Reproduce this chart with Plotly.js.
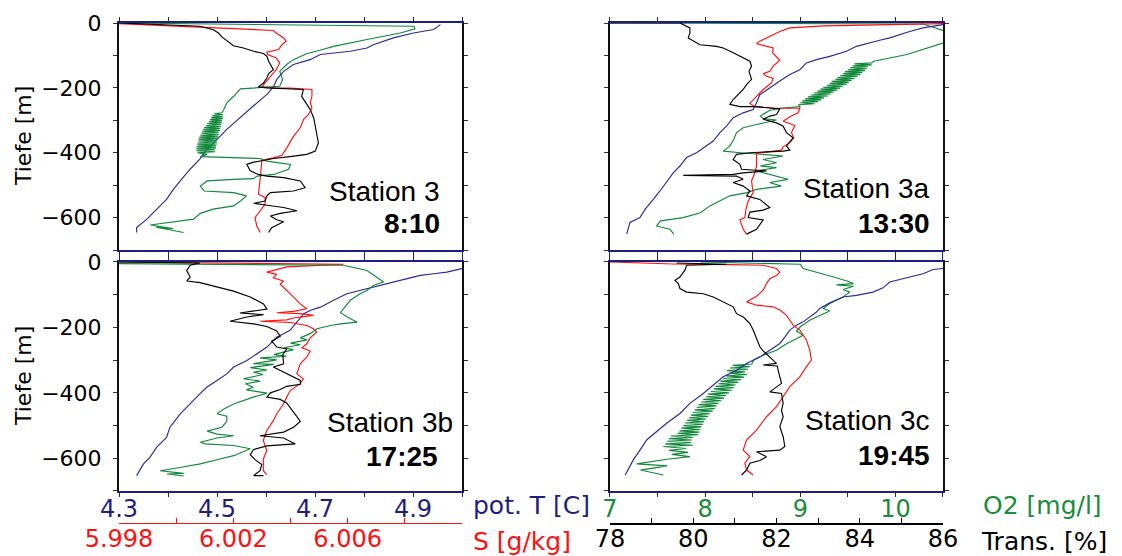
<!DOCTYPE html>
<html>
<head>
<meta charset="utf-8">
<script src="https://cdn.plot.ly/plotly-3.0.1.min.js"></script>
<style>html,body{margin:0;padding:0;background:#fff;}#chart{width:1122px;height:556px;}</style>
</head>
<body>
<div id="chart"></div>
<script>
// ---------------- DATA ----------------
// Station 3 (8:10)
const s3_T   = [4.956,4.942,4.901,4.860,4.819,4.806,4.772,4.711,4.690,4.656,4.636,4.622,4.615,4.602,4.574,4.547,4.520,4.500,4.479,4.465,4.445,4.425,4.411,4.397,4.377,4.357,4.336,4.336];
const s3_Td  = [-5,-20,-31,-46,-67,-77,-87,-97,-113,-128,-149,-174,-197,-220,-256,-292,-328,-359,-390,-420,-451,-487,-513,-544,-574,-605,-631,-646];
const s3_S   = [5.9980,6.0013,6.0027,6.0034,6.0035,6.00376,6.00385,6.0037,6.00358,6.00317,6.0032,6.0035,6.00362,6.0035,6.00335,6.0032,6.0030,6.0035,6.0040,6.00475,6.00475,6.00469,6.00475,6.00463,6.00446,6.00434,6.00411,6.00387,6.0037,6.0034,6.0030,6.00296,6.00291,6.00288,6.00311,6.00311,6.00294,6.00276,6.00282,6.00294];
const s3_Sd  = [-2,-15,-21,-23,-31,-46,-56,-67,-82,-90,-97,-108,-123,-144,-159,-174,-197,-201,-201,-205,-226,-246,-262,-282,-297,-323,-349,-385,-408,-416,-423,-462,-503,-528,-538,-559,-579,-600,-626,-646];
const s3_Tr  = [78.00,79.89,80.20,80.32,80.40,80.59,80.67,80.90,81.14,81.37,81.45,81.49,81.56,81.60,81.49,81.45,81.37,81.25,81.45,82.30,82.26,82.34,82.46,82.54,82.58,82.62,82.65,82.58,82.38,81.99,81.60,81.37,81.14,80.98,81.06,81.25,81.45,81.84,82.23,82.34,82.07,81.53,81.45,81.41,81.14,81.45,81.84,82.15,81.76,81.53,81.68,81.84,81.56,81.49];
const s3_Trd = [0,-10,-21,-31,-43,-62,-70,-77,-87,-94,-103,-118,-133,-144,-156,-169,-185,-197,-200,-205,-226,-241,-267,-292,-318,-344,-369,-395,-405,-412,-418,-424,-429,-436,-456,-467,-472,-477,-487,-508,-518,-523,-533,-549,-556,-562,-569,-579,-587,-595,-607,-613,-631,-646];
const s3_O   = [7.00,10.01,10.02,9.87,9.53,9.36,9.19,9.05,8.92,8.78,8.71,8.64,8.67,8.64,8.24,8.17,8.10,8.07,
                8.05,7.97,8.06,7.95,8.06,7.94,8.06,7.93,8.05,7.92,8.05,7.90,8.04,7.89,8.04,7.87,8.03,7.86,8.03,7.85,8.02,7.84,8.02,7.83,8.01,7.82,8.01,7.81,8.00,7.81,8.00,7.80,8.00,7.80,7.99,7.79,7.99,7.79,7.98,7.79,7.98,7.80,7.90,7.83,
                8.44,8.51,8.75,8.73,8.58,8.41,8.37,8.17,7.90,7.83,7.87,8.17,8.30,8.24,8.17,7.96,7.83,7.76,7.49,7.32,7.55,7.38,7.66];
const s3_Od  = [0,-10,-18,-31,-51,-62,-72,-84,-94,-113,-128,-149,-174,-195,-203,-226,-246,-267,
                -277,-280,-283,-286,-289,-292,-295,-298,-301,-304,-307,-310,-313,-316,-319,-322,-325,-328,-331,-334,-337,-340,-343,-346,-349,-352,-355,-358,-361,-364,-367,-370,-373,-376,-379,-382,-385,-388,-391,-394,-397,-400,-405,-412,
                -418,-426,-436,-451,-467,-472,-480,-482,-487,-503,-518,-523,-533,-549,-564,-574,-587,-605,-615,-623,-634,-630,-646];

// Station 3a (13:30)
const s3a_T   = [5.000,4.958,4.930,4.909,4.888,4.867,4.818,4.797,4.762,4.734,4.713,4.699,4.678,4.657,4.636,4.615,4.608,4.601,4.580,4.559,4.545,4.531,4.517,4.496,4.482,4.461,4.447,4.433,4.419,4.405,4.391,4.374,4.363,4.342,4.335];
const s3a_Td  = [-5,-15,-26,-36,-46,-53,-72,-87,-103,-113,-123,-144,-159,-179,-200,-221,-246,-267,-277,-292,-318,-338,-364,-385,-400,-415,-441,-462,-492,-518,-544,-574,-600,-615,-651];
const s3a_S   = [6.0100,6.0081,6.0057,6.00448,6.00412,6.00388,6.0034,6.00328,6.00358,6.00388,6.00386,6.00406,6.00412,6.00388,6.00376,6.00352,6.00364,6.00388,6.00382,6.00352,6.00328,6.00304,6.00322,6.0040,6.00484,6.00478,6.00448,6.00424,6.00466,6.00454,6.00462,6.00448,6.00424,6.00418,6.00328,6.00328,6.00322,6.0031,6.00316,6.00298,6.0029,6.00286,6.00268,6.0028,6.00292];
const s3a_Sd  = [-2,-5,-9,-15,-26,-36,-56,-64,-70,-77,-92,-108,-115,-133,-149,-156,-164,-171,-185,-205,-226,-248,-258,-263,-263,-277,-289,-303,-316,-338,-354,-369,-382,-392,-402,-441,-462,-487,-523,-549,-574,-600,-607,-636,-651];
const s3a_Tr  = [78.00,79.68,79.92,79.92,79.88,80.00,80.16,80.56,80.72,80.96,81.20,81.36,81.40,81.34,81.40,81.28,81.20,81.08,80.96,80.88,81.12,81.52,82.08,82.00,81.84,81.68,82.00,82.16,82.24,82.40,82.32,82.24,82.32,82.16,81.36,81.04,80.96,81.12,81.16,81.76,81.20,80.96,79.76,81.04,81.20,80.96,81.20,81.36,81.28,81.60,81.84,81.68,81.36,81.32,81.68,81.52,81.28];
const s3a_Trd = [0,0,-15,-31,-46,-56,-67,-72,-77,-92,-108,-118,-133,-149,-174,-190,-205,-221,-236,-251,-258,-258,-265,-282,-287,-297,-308,-318,-338,-354,-367,-379,-392,-395,-400,-405,-421,-436,-451,-456,-462,-467,-470,-472,-482,-492,-503,-518,-533,-544,-569,-577,-583,-600,-607,-636,-651];
const s3a_O   = [7.00,10.29,10.50,10.64,10.50,10.29,10.12,9.94,9.77,
                 9.75,9.57,9.75,9.55,9.71,9.52,9.70,9.50,9.68,9.47,9.65,9.45,9.63,9.42,9.60,9.39,9.57,9.37,9.54,9.33,9.51,9.31,9.49,9.28,9.45,9.24,9.42,9.21,9.39,9.18,9.35,9.14,9.32,9.11,9.29,9.08,9.25,9.05,9.22,9.02,9.19,9.00,9.15,8.98,9.00,
                 8.82,8.68,8.58,8.61,8.75,8.54,8.40,8.33,8.30,8.26,8.19,8.37,8.61,8.82,8.61,8.75,8.58,8.75,8.54,8.75,8.87,8.68,8.80,8.54,8.44,8.26,8.19,8.05,7.95,7.77,7.53,7.49,7.63,7.67];
const s3a_Od  = [0,-3,-23,-41,-62,-82,-97,-108,-118,
                 -123,-126,-129,-132,-135,-138,-141,-144,-147,-150,-153,-156,-159,-162,-165,-168,-171,-174,-177,-180,-183,-186,-189,-192,-195,-198,-201,-204,-207,-210,-213,-216,-219,-222,-225,-228,-231,-234,-237,-240,-243,-246,-249,-252,-258,
                 -262,-269,-287,-295,-299,-313,-323,-338,-359,-379,-395,-400,-405,-410,-421,-431,-441,-446,-456,-472,-482,-492,-503,-513,-523,-533,-544,-564,-585,-600,-610,-626,-636,-651];

// Station 3b (17:25)
const s3b_T   = [5.000,4.969,4.942,4.915,4.888,4.860,4.833,4.806,4.779,4.765,4.738,4.711,4.690,4.677,4.663,4.649,4.636,4.622,4.602,4.581,4.561,4.534,4.520,4.500,4.479,4.465,4.452,4.438,4.425,4.404,4.397,4.377,4.363,4.350,4.336];
const s3b_Td  = [-20,-31,-36,-41,-51,-61,-71,-82,-92,-97,-117,-138,-148,-158,-184,-209,-219,-230,-260,-281,-301,-321,-342,-362,-383,-403,-423,-444,-464,-505,-536,-566,-597,-617,-653];
const s3b_S   = [5.9980,6.00585,6.00387,6.00317,6.00352,6.0034,6.00375,6.00364,6.00387,6.0041,6.00434,6.00457,6.0041,6.00352,6.00434,6.0048,6.0041,6.00387,6.00294,6.00399,6.00457,6.0048,6.00492,6.00469,6.00457,6.0044,6.00469,6.00457,6.00434,6.00422,6.00445,6.00434,6.00399,6.00387,6.00375,6.00352,6.0034,6.00317,6.00305,6.00317,6.00305,6.00305,6.00317];
const s3b_Sd  = [0,-7,-15,-31,-38,-48,-58,-68,-87,-107,-128,-143,-151,-155,-158,-163,-171,-177,-181,-185,-194,-204,-214,-232,-250,-262,-272,-291,-311,-342,-357,-372,-393,-413,-434,-464,-485,-515,-546,-577,-602,-638,-650];
const s3b_Tr  = [78.00,79.89,79.66,79.58,79.66,79.58,79.89,80.28,80.67,81.06,81.37,81.45,81.14,80.82,81.37,80.98,80.59,81.14,81.45,81.68,81.76,81.56,81.68,81.91,81.82,81.84,81.60,81.80,81.99,82.23,82.23,81.91,81.76,81.53,81.45,81.76,81.91,81.99,82.11,82.23,82.07,81.84,81.29,81.84,81.99,82.11,81.45,81.14,81.06,81.18,81.33,81.29,81.14,81.37];
const s3b_Trd = [0,-3,-10,-26,-46,-58,-63,-77,-89,-107,-128,-144,-151,-156,-161,-168,-181,-189,-197,-211,-227,-242,-260,-266,-283,-311,-321,-334,-344,-362,-374,-380,-390,-400,-413,-420,-431,-446,-466,-487,-505,-520,-531,-538,-548,-556,-562,-573,-589,-605,-619,-638,-653,-653];
const s3b_O   = [7.00,9.29,9.53,9.63,9.70,9.60,9.53,9.46,9.36,9.29,9.26,9.33,9.43,9.26,9.16,9.02,8.95,8.85,8.92,8.75,8.85,8.68,8.78,8.58,8.71,8.44,8.61,8.37,8.58,8.34,8.51,8.37,8.47,8.27,8.44,8.29,8.37,8.30,8.51,8.37,8.27,8.17,8.07,8.00,8.10,8.10,8.05,7.90,8.00,8.17,8.00,7.83,7.88,8.17,8.34,8.24,8.17,8.03,7.83,7.62,7.42,7.66,7.49,7.66];
const s3b_Od  = [-5,-10,-26,-46,-61,-71,-87,-97,-117,-143,-155,-168,-184,-189,-194,-204,-219,-232,-238,-248,-253,-262,-268,-283,-288,-293,-299,-311,-313,-323,-330,-337,-344,-357,-364,-372,-383,-391,-401,-413,-423,-434,-449,-464,-471,-487,-505,-517,-526,-531,-538,-551,-556,-561,-571,-582,-592,-602,-617,-628,-638,-646,-648,-654];

// Station 3c (19:45)
const s3c_T   = [5.000,4.979,4.958,4.930,4.909,4.888,4.874,4.853,4.818,4.790,4.762,4.741,4.734,4.720,4.706,4.692,4.678,4.668,4.657,4.636,4.615,4.587,4.566,4.538,4.517,4.496,4.468,4.447,4.419,4.398,4.377,4.363,4.349,4.332];
const s3c_Td  = [-20,-23,-36,-46,-54,-61,-79,-92,-102,-107,-125,-142,-153,-168,-183,-193,-208,-229,-249,-270,-290,-310,-331,-351,-376,-402,-432,-463,-493,-519,-544,-575,-605,-651];
const s3c_S   = [5.998,6.00028,6.00232,6.00352,6.004,6.00412,6.004,6.00376,6.00364,6.00352,6.00328,6.00292,6.00328,6.00388,6.00412,6.00436,6.00448,6.0046,6.00484,6.00508,6.0052,6.00526,6.00508,6.00484,6.00448,6.00424,6.004,6.00364,6.00328,6.00292,6.0028,6.00304,6.00286,6.00292,6.00316];
const s3c_Sd  = [0,-6,-8,-10,-20,-31,-41,-51,-66,-86,-105,-122,-132,-137,-147,-163,-178,-193,-208,-239,-270,-300,-320,-351,-381,-412,-442,-473,-514,-544,-575,-595,-615,-636,-651];
const s3c_Tr  = [79.60,80.80,79.84,79.80,79.68,79.56,79.64,79.68,79.84,80.24,80.48,80.72,80.96,81.04,81.20,81.28,81.36,81.44,81.52,81.60,81.68,81.84,82.00,81.68,82.02,82.04,82.08,82.12,81.84,82.12,82.16,82.12,82.16,82.08,82.16,82.20,82.08,81.52,81.76,81.60,81.36,81.28,81.16];
const s3c_Trd = [-3,-7,-10,-25,-46,-56,-66,-81,-92,-97,-107,-122,-137,-158,-168,-178,-188,-208,-231,-259,-272,-290,-310,-315,-318,-331,-351,-371,-397,-402,-432,-453,-473,-503,-534,-564,-575,-580,-595,-607,-615,-636,-651];
const s3c_O   = [7.95,9.00,9.03,9.24,9.35,9.49,9.56,9.38,9.56,9.45,9.52,9.45,9.38,9.31,9.24,9.31,9.21,9.10,9.00,8.96,9.03,8.96,8.86,8.75,8.61,8.51,
                 8.49,8.29,8.47,8.26,8.45,8.23,8.42,8.25,8.44,8.22,8.41,8.19,8.38,8.16,8.35,8.14,8.32,8.11,8.30,8.09,8.28,8.06,8.25,8.03,8.22,8.01,8.20,7.98,8.17,7.96,8.14,7.93,8.12,7.91,8.10,7.89,8.08,7.87,8.05,7.85,8.03,7.83,8.01,7.81,7.99,7.79,7.98,7.77,7.96,7.75,7.95,7.73,7.94,7.71,7.93,7.64,7.87,7.62,7.86,7.60,7.85,7.58,7.87,7.56,
                 7.80,7.62,7.82,7.65,7.84,7.60,7.42,7.28,7.60,7.32,7.56];
const s3c_Od  = [0,-7,-20,-36,-46,-58,-66,-70,-74,-84,-92,-107,-117,-127,-142,-150,-163,-178,-198,-211,-224,-234,-249,-270,-285,-300,
                 -312,-316,-320,-324,-328,-332,-336,-340,-344,-348,-352,-356,-360,-364,-368,-372,-376,-380,-384,-388,-392,-396,-400,-404,-408,-412,-416,-420,-424,-428,-432,-436,-440,-444,-448,-452,-456,-460,-464,-468,-472,-476,-480,-484,-488,-492,-496,-500,-504,-508,-512,-516,-520,-524,-528,-532,-536,-540,-544,-548,-552,-556,-560,-564,
                 -570,-576,-582,-588,-595,-603,-610,-617,-623,-636,-651];

const stationNames = ['Station 3','Station 3a','Station 3b','Station 3c'];
const stationTimes = ['8:10','13:30','17:25','19:45'];
const depthTitle = 'Tiefe [m]';
const axisTitles = {T:'pot. T [C]', S:'S [g/kg]', O:'O2 [mg/l]', Tr:'Trans. [%]'};
// salinity scale: ticks every 0.002, labelled every 0.004 (not at the end)
const sTickVals = [5.998,6.000,6.002,6.004,6.006,6.008,6.010];
const sTickText = ['5.998','','6.002','','6.006','',''];

// ---------------- STYLE ----------------
const NAVY = '#1e1e7e', BLUE = '#2a2a96', RED = '#ff1010', GREEN = '#10883a', GREEN_TXT = '#1a8c3c', BLACK = '#000000';
const FONT = 'DejaVu Sans, sans-serif';
const RANGES = {T:[4.3,5.0], S:[5.998,6.010], O:[7,10.5], Tr:[78,86]};

const XL=[0,0.41626], XR=[0.59587,1], YT=[0.55227,1], YB=[0.07692,0.52860];
const panels = [
  {T:[s3_T,s3_Td],  S:[s3_S,s3_Sd],  Tr:[s3_Tr,s3_Trd],  O:[s3_O,s3_Od],  xd:XL, yd:YT, left:true,  bottom:false},
  {T:[s3a_T,s3a_Td],S:[s3a_S,s3a_Sd],Tr:[s3a_Tr,s3a_Trd],O:[s3a_O,s3a_Od],xd:XR, yd:YT, left:false, bottom:false},
  {T:[s3b_T,s3b_Td],S:[s3b_S,s3b_Sd],Tr:[s3b_Tr,s3b_Trd],O:[s3b_O,s3b_Od],xd:XL, yd:YB, left:true,  bottom:true},
  {T:[s3c_T,s3c_Td],S:[s3c_S,s3c_Sd],Tr:[s3c_Tr,s3c_Trd],O:[s3c_O,s3c_Od],xd:XR, yd:YB, left:false, bottom:true}
];

const xid = n => n===1 ? 'x' : 'x'+n;
const xkey = n => n===1 ? 'xaxis' : 'xaxis'+n;
const yid = n => n===1 ? 'y' : 'y'+n;
const ykey = n => n===1 ? 'yaxis' : 'yaxis'+n;

const traces = [];
const layout = {
  width:1122, height:556, showlegend:false,
  paper_bgcolor:'#fff', plot_bgcolor:'#fff',
  margin:{l:119, r:179, t:23, b:26},
  font:{family:FONT, size:22, color:BLACK},
  annotations:[]
};

const S_POS = 0.0138;
const TICKSIZE = 24;

panels.forEach((p, i) => {
  const base = 4*i + 1;
  const ids = {T:base, S:base+1, O:base+2, Tr:base+3};
  const yn = i + 1;
  const mainKey = p.left ? 'T' : 'O';
  const mainId = ids[mainKey];

  ['T','S','O','Tr'].forEach(k => {
    const n = ids[k];
    let ax = {domain:p.xd, range:RANGES[k], showgrid:false, zeroline:false, fixedrange:true};
    if (k === mainKey) {
      Object.assign(ax, {
        anchor:yid(yn), showline:true, linecolor:NAVY, linewidth:2, mirror:'ticks',
        ticks:'outside', ticklen:4, tickwidth:1, tickcolor:NAVY,
        showticklabels:p.bottom, ticklabelstandoff:-9,
        tickfont:{family:FONT, size:TICKSIZE, color: p.left ? NAVY : GREEN_TXT},
        tickmode:'linear'
      });
      if (p.left) { ax.tick0 = 4.3; ax.dtick = 0.2; ax.minor = {tick0:4.3, dtick:0.1, ticks:'outside', ticklen:4, tickcolor:NAVY}; }
      else { ax.tick0 = 7; ax.dtick = 1; ax.minor = {tick0:7, dtick:0.5, ticks:'outside', ticklen:4, tickcolor:NAVY}; }
    } else if (p.bottom && ((p.left && k==='S') || (!p.left && k==='Tr'))) {
      const col = k==='S' ? RED : BLACK;
      Object.assign(ax, {
        overlaying:xid(mainId), anchor:'free', position:S_POS, side:'bottom',
        showline:true, linecolor:col, linewidth: k==='S'?1:1.5,
        ticks:'inside', ticklen:5, tickcolor:col, ticklabelstandoff:-6,
        tickfont:{family:FONT, size:TICKSIZE, color:col}
      });
      if (k==='S') { ax.tickmode = 'array'; ax.tickvals = sTickVals; ax.ticktext = sTickText; }
      else { ax.tickmode = 'linear'; ax.tick0 = 78; ax.dtick = 2; ax.minor = {tick0:78, dtick:1, ticks:'inside', ticklen:5, tickcolor:col}; }
    } else {
      Object.assign(ax, {overlaying:xid(mainId), anchor:yid(yn), visible:false});
    }
    layout[xkey(n)] = ax;
  });

  layout[ykey(yn)] = {
    domain:p.yd, anchor:xid(mainId), range:[-700,0], fixedrange:true,
    showline:true, linecolor:'#111', linewidth:2, mirror:'ticks',
    ticks:'outside', ticklen:4, tickcolor:'#333',
    tickmode:'linear', tick0:0, dtick:200,
    minor:{tick0:0, dtick:100, ticks:'outside', ticklen:4, tickcolor:'#333'},
    showgrid:false, zeroline:false,
    showticklabels:p.left, ticklabelstandoff:7,
    tickfont:{family:FONT, size:22, color:BLACK}
  };

  const add = (arr, k, color) => traces.push({
    type:'scatter', mode:'lines', x:arr[0], y:arr[1], xaxis:xid(ids[k]), yaxis:yid(yn),
    line:{color:color, width:1.15}, hoverinfo:'skip'
  });
  add(p.T, 'T', BLUE);
  add(p.S, 'S', RED);
  add(p.Tr, 'Tr', BLACK);
  add(p.O, 'O', GREEN);
});

// pixel -> paper helpers for annotations (plot area 119..943 x 23..530)
const px = X => (X - 119) / 824;
const py = Y => (530 - Y) / 507;
const ann = (text, X, Y, opts) => layout.annotations.push(Object.assign({
  text:text, xref:'paper', yref:'paper', x:px(X), y:py(Y), showarrow:false,
  xanchor:'left', yanchor:'middle', font:{family:FONT, size:22, color:BLACK}
}, opts||{}));

// station labels
const stPos = [[442,191,442,223],[932,188,932,223],[455,422,440,457],[932,420,932,455]];
stPos.forEach((s, i) => {
  ann(stationNames[i], s[0], s[1], {xanchor:'right', font:{family:'Liberation Sans, Arial, sans-serif', size:28, color:BLACK}});
  ann('<b>'+stationTimes[i]+'</b>', s[2], s[3], {xanchor:'right', font:{family:'Liberation Sans, Arial, sans-serif', size:28, color:BLACK}});
});
// depth titles
ann(depthTitle, 23, 136, {xanchor:'center', textangle:-90, font:{family:FONT, size:22, color:BLACK}});
ann(depthTitle, 23, 376, {xanchor:'center', textangle:-90, font:{family:FONT, size:22, color:BLACK}});
// scale titles
ann(axisTitles.T, 471, 505, {font:{family:FONT, size:25, color:NAVY}});
ann(axisTitles.S, 471, 541, {font:{family:FONT, size:25, color:RED}});
ann(axisTitles.O, 981, 505, {font:{family:FONT, size:25, color:GREEN_TXT}});
ann(axisTitles.Tr, 979, 541, {font:{family:FONT, size:25, color:BLACK}});

Plotly.newPlot('chart', traces, layout, {staticPlot:true, displayModeBar:false});
</script>
</body>
</html>
